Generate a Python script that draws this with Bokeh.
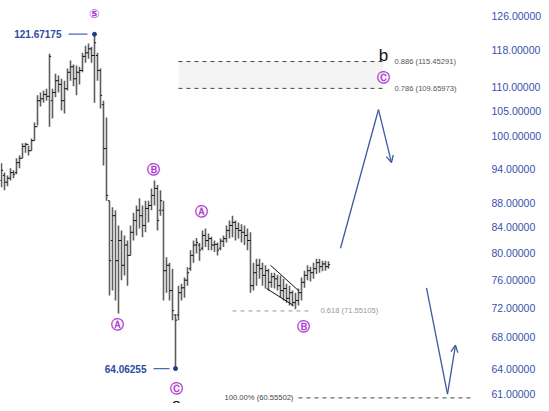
from bokeh.plotting import figure
from bokeh.models import Range1d, FixedTicker, PrintfTickFormatter, Arrow, OpenHead, Label
from bokeh.embed import file_html
from bokeh.resources import INLINE

# ---------------- data ----------------
high = [95.0, 93.3, 92.8, 94.1, 93.7, 95.9, 96.4, 98.7, 98.8, 98.3,
        99.6, 102.7, 108.2, 108.8, 109.2, 109.6, 117.2, 109.6, 112.8, 112.4,
        111.7, 111.3, 113.9, 115.7, 114.8, 114.6, 114.3, 117.4, 119.0, 119.5,
        118.8, 121.67175, 117.4, 113.9, 107.1, 103.7, 88.4, 87.3, 86.8, 84.3,
        83.5, 82.7, 81.9, 84.3, 86.4, 87.6, 88.8, 87.6, 88.4, 88.4,
        90.5, 91.9, 91.1, 90.2, 88.4, 79.3, 78.5, 77.6, 71.1, 75.1,
        75.4, 76.3, 77.8, 80.4, 81.9, 82.3, 81.5, 83.5, 83.8, 83.0,
        82.5, 81.9, 81.6, 82.2, 82.7, 84.3, 85.1, 85.9, 85.1, 84.8,
        84.5, 84.3, 83.8, 83.2, 78.5, 79.1, 79.1, 78.5, 78.1, 77.6,
        77.0, 77.0, 76.7, 76.6, 76.1, 75.4, 75.1, 74.4, 74.1, 74.7,
        76.3, 77.3, 78.1, 77.9, 78.5, 79.1, 79.1, 78.8, 78.8, 78.7]
low = [90.7, 90.2, 90.9, 91.9, 92.3, 93.0, 94.1, 95.9, 96.9, 96.4,
       97.3, 99.2, 102.1, 105.9, 106.7, 107.1, 101.9, 103.5, 107.8, 108.8,
       105.1, 104.5, 109.2, 111.3, 110.1, 108.2, 110.5, 113.1, 115.2, 116.1,
       115.2, 106.7, 111.3, 105.5, 94.6, 88.4, 73.7, 74.4, 73.0, 71.2,
       75.9, 76.6, 75.1, 79.6, 81.9, 82.7, 83.8, 82.4, 83.2, 84.8,
       86.8, 87.6, 83.5, 85.9, 73.0, 74.1, 73.0, 70.3, 64.06255, 70.3,
       73.0, 73.4, 75.1, 77.3, 78.5, 79.9, 78.8, 80.4, 80.9, 80.4,
       80.4, 80.1, 79.6, 80.4, 80.9, 81.6, 82.2, 82.4, 81.9, 82.2,
       81.6, 81.2, 80.4, 74.1, 74.4, 75.1, 76.1, 75.1, 74.7, 74.4,
       74.8, 74.7, 74.4, 73.4, 73.0, 72.7, 72.3, 72.2, 71.8, 72.3,
       73.0, 74.8, 75.9, 75.7, 76.1, 76.8, 77.0, 77.2, 77.3, 77.6]
opens = [91.9, 92.8, 91.6, 92.3, 93.3, 93.3, 95.1, 95.9, 98.1, 98.5,
         97.3, 99.2, 101.9, 107.1, 107.5, 108.4, 108.0, 107.1, 108.8, 111.3,
         110.5, 107.1, 109.6, 113.1, 114.3, 111.7, 113.1, 113.5, 116.6, 117.4,
         118.3, 116.8, 116.8, 113.5, 106.3, 97.7, 88.4, 81.9, 85.9, 78.8,
         81.9, 78.1, 81.2, 79.6, 83.2, 85.1, 86.8, 85.9, 84.3, 87.1,
         87.6, 89.3, 90.5, 86.8, 86.8, 77.3, 78.1, 74.4, 71.0, 71.0,
         74.1, 74.8, 75.9, 77.6, 79.6, 81.2, 81.2, 80.7, 82.7, 81.9,
         82.2, 81.2, 81.3, 80.7, 81.8, 82.2, 83.5, 84.3, 84.8, 83.8,
         83.5, 83.2, 82.7, 81.9, 75.1, 77.0, 78.1, 77.6, 76.6, 77.3,
         75.6, 76.4, 76.1, 75.1, 74.4, 74.7, 73.3, 74.1, 72.7, 73.0,
         74.1, 75.6, 76.6, 77.3, 77.0, 77.6, 78.5, 77.9, 78.3, 77.9]
closes = [93.7, 91.6, 92.3, 93.3, 93.0, 95.1, 95.9, 98.1, 98.5, 97.3,
          99.2, 101.9, 107.1, 107.5, 108.4, 108.0, 116.6, 108.8, 111.3, 110.5,
          107.1, 109.6, 113.1, 114.3, 111.7, 113.1, 113.5, 116.6, 117.4, 118.3,
          116.8, 119.7, 113.5, 108.2, 97.7, 89.3, 78.8, 85.9, 78.8, 81.9,
          78.1, 81.2, 79.6, 83.2, 85.1, 86.8, 85.9, 84.3, 87.1, 87.6,
          89.3, 90.5, 85.1, 88.4, 77.3, 78.1, 74.4, 71.6, 70.3, 74.1,
          74.8, 75.9, 77.0, 79.6, 81.2, 81.6, 80.4, 82.7, 81.9, 82.2,
          81.2, 81.3, 80.4, 81.8, 82.2, 83.5, 84.3, 84.8, 83.8, 83.5,
          83.2, 82.7, 81.9, 75.1, 77.0, 78.1, 77.6, 76.6, 77.3, 75.6,
          76.4, 76.1, 75.1, 74.4, 74.7, 73.3, 74.1, 72.7, 73.0, 74.1,
          75.6, 76.6, 77.3, 77.0, 77.6, 78.5, 77.9, 78.3, 77.9, 78.2]

tick_values = [61, 64, 68, 72, 76, 80, 84, 88, 94, 100, 105, 110, 118, 126]

peak_bar, peak_price = 31, 121.67175
trough_bar, trough_price = 58, 64.06255

fib_names = ["0.886", "0.786", "0.618", "100.00%"]
fib_levels = [115.45291, 109.65973, 71.55105, 60.55502]

# projected path (bar index, price)
proj1_x = [113.0, 125.67, 130.0]
proj1_y = [80.7, 105.3, 95.1]
proj2_x = [141.67, 148.67, 151.33]
proj2_y = [74.8, 61.0, 67.0]

# channel lines (bar index, price)
chan_up_x, chan_up_y = [89.67, 99.0], [78.1, 74.4]
chan_lo_x, chan_lo_y = [88.33, 97.33], [74.7, 72.3]

# wave labels: text, bar index, price
wave_text = ["\u2464", "\u24b7", "\u24b6", "\u24b6", "\u24b8", "\u24b7", "\u24b8"]
wave_x = [31.0, 50.67, 38.67, 66.67, 58.33, 100.67, 127.17]
wave_y = [126.6, 93.9, 69.7, 86.6, 61.6, 69.5, 112.0]

# ---------------- figure ----------------
p = figure(frame_width=486, frame_height=403,
           x_range=Range1d(-0.333, 161.67), y_range=Range1d(59.91, 129.80),
           y_axis_type="log", y_axis_location="right", x_axis_location=None,
           output_backend="svg", toolbar_location=None, min_border=0)
p.outline_line_color = None
p.grid.visible = False
p.background_fill_color = "white"
p.border_fill_color = "white"

ax = p.yaxis[0]
ax.ticker = FixedTicker(ticks=tick_values)
ax.formatter = PrintfTickFormatter(format="%.5f")
ax.axis_line_color = None
ax.major_tick_line_color = None
ax.minor_tick_line_color = None
ax.major_tick_out = 0
ax.major_tick_in = 0
ax.major_label_text_color = "#3652b0"
ax.major_label_text_font = "Liberation Sans"
ax.major_label_text_font_size = "10.5px"
ax.major_label_standoff = 5

xs = list(range(len(high)))

# Fib box
p.quad(left=59.0, right=127.33, bottom=fib_levels[1], top=fib_levels[0],
       fill_color="#f4f4f4", line_color=None)
p.segment(x0=[59.0, 59.0], y0=fib_levels[:2], x1=[127.33, 127.33], y1=fib_levels[:2],
          line_color="#444444", line_width=1, line_dash="4 4")
p.segment(x0=[77.0], y0=[fib_levels[2]], x1=[103.67], y1=[fib_levels[2]],
          line_color="#999999", line_width=1, line_dash="4 4")
p.segment(x0=[99.0], y0=[fib_levels[3]], x1=[156.3], y1=[fib_levels[3]],
          line_color="#444444", line_width=1, line_dash="4 4")

# OHLC bars
p.segment(x0=xs, y0=low, x1=xs, y1=high, line_color="#5e5e5e", line_width=1.6)
p.segment(x0=[x - 0.55 for x in xs], y0=opens, x1=xs, y1=opens, line_color="#111111", line_width=1)
p.segment(x0=xs, y0=closes, x1=[x + 0.55 for x in xs], y1=closes, line_color="#111111", line_width=1)

# channel
p.line(chan_up_x, chan_up_y, line_color="#111111", line_width=1)
p.line(chan_lo_x, chan_lo_y, line_color="#111111", line_width=1)

# projections
blue = "#3d5a9c"
for px, py in ((proj1_x, proj1_y), (proj2_x, proj2_y)):
    p.line(px[:2], py[:2], line_color=blue, line_width=1.3)
    p.add_layout(Arrow(x_start=px[1], y_start=py[1], x_end=px[2], y_end=py[2],
                       line_color=blue, line_width=1.3,
                       end=OpenHead(size=7, line_color=blue, line_width=1.3)))

# peak / trough markers
p.line([22.33, 28.67], [peak_price, peak_price], line_color="#4a69c0", line_width=1.2)
p.line([50.67, 56.0], [trough_price, trough_price], line_color="#4a69c0", line_width=1.2)
p.scatter([peak_bar, trough_bar], [peak_price, trough_price], size=4, color="#1f3b8f")
p.add_layout(Label(x=20.0, y=peak_price, text=f"{peak_price:.5f}", text_align="right",
                   text_baseline="middle", text_color="#2b4ba5", text_font="Liberation Sans",
                   text_font_size="10px", text_font_style="bold"))
p.add_layout(Label(x=48.33, y=trough_price, text=f"{trough_price:.5f}", text_align="right",
                   text_baseline="middle", text_color="#2b4ba5", text_font="Liberation Sans",
                   text_font_size="10px", text_font_style="bold"))

# fib labels
fib_lab = [(131.0, 0, "#555555", "left"), (131.0, 1, "#555555", "left"),
           (106.3, 2, "#999999", "left"), (97.3, 3, "#444444", "right")]
for fx, k, col, al in fib_lab:
    p.add_layout(Label(x=fx, y=fib_levels[k], text=f"{fib_names[k]} ({fib_levels[k]:.5f})",
                       text_align=al, text_baseline="middle", text_color=col,
                       text_font="Liberation Sans", text_font_size="7.6px"))

# wave labels
for t, wx, wy in zip(wave_text, wave_x, wave_y):
    p.add_layout(Label(x=wx, y=wy, text=t, text_align="center", text_baseline="middle",
                       text_color="#b040d0", text_font="DejaVu Sans", text_font_size="12.5px",
                       text_font_style="bold"))

p.add_layout(Label(x=127.33, y=116.8, text="b", text_align="center", text_baseline="alphabetic",
                   text_color="#111111", text_font="Liberation Sans", text_font_size="17px"))
p.add_layout(Label(x=58.33, y=60.95, text="a", text_align="center", text_baseline="top",
                   text_color="#111111", text_font="Liberation Sans", text_font_size="17px"))

open("out.html", "w").write(file_html(p, INLINE))
